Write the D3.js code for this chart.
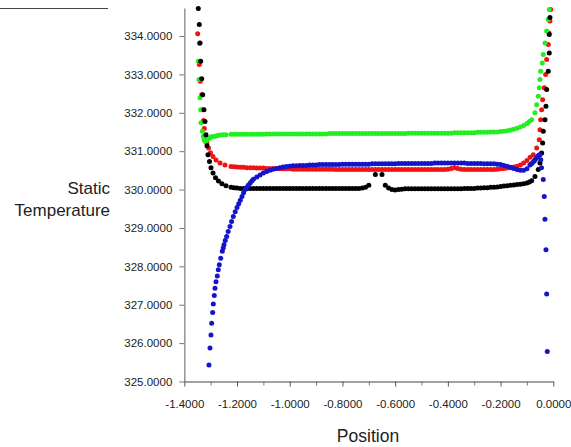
<!DOCTYPE html>
<html>
<head>
<meta charset="utf-8">
<script src="https://cdn.jsdelivr.net/npm/d3@7"></script>
<style>
  html, body { margin: 0; padding: 0; background: #fff; }
  svg { display: block; font-family: "Liberation Sans", Arial, sans-serif; }
</style>
</head>
<body>
<svg id="chart" width="571" height="447"></svg>
<script>
// Probe positions shared by all four profiles in the core region
const gridPos = [
  -1.2, -1.1875, -1.175, -1.1625, -1.15, -1.1375, -1.125, -1.1125,
  -1.1, -1.0875, -1.075, -1.0625, -1.05, -1.0375, -1.025, -1.0125,
  -1.0, -0.9875, -0.975, -0.9625, -0.95, -0.9375, -0.925, -0.9125,
  -0.9, -0.8875, -0.875, -0.8625, -0.85, -0.8375, -0.825, -0.8125,
  -0.8, -0.7875, -0.775, -0.7625, -0.75, -0.7375, -0.725, -0.7125,
  -0.7, -0.6875, -0.675, -0.6625, -0.65, -0.6375, -0.625, -0.6125,
  -0.6, -0.5875, -0.575, -0.5625, -0.55, -0.5375, -0.525, -0.5125,
  -0.5, -0.4875, -0.475, -0.4625, -0.45, -0.4375, -0.425, -0.4125,
  -0.4, -0.3875, -0.375, -0.3625, -0.35, -0.3375, -0.325, -0.3125,
  -0.3, -0.2875, -0.275, -0.2625, -0.25, -0.2375, -0.225, -0.2125,
  -0.2, -0.1875, -0.175, -0.1625, -0.15, -0.1375, -0.125, -0.1125,
  -0.1
];

// Static temperature at the shared positions (null = no sample)
const blackCore = [
  330.04, 330.03, 330.03, 330.03, 330.03, 330.03, 330.03, 330.03,
  330.03, 330.03, 330.03, 330.03, 330.03, 330.03, 330.03, 330.03,
  330.03, 330.03, 330.03, 330.03, 330.03, 330.03, 330.03, 330.03,
  330.03, 330.03, 330.03, 330.03, 330.03, 330.03, 330.03, 330.03,
  330.03, 330.03, 330.03, 330.03, 330.03, 330.03, 330.04, 330.06,
  330.11, null, 330.39, null, 330.39, 330.11, 330.04, 330.00,
  329.99, 330.00, 330.01, 330.02, 330.02, 330.02, 330.02, 330.02,
  330.02, 330.02, 330.02, 330.02, 330.02, 330.02, 330.02, 330.02,
  330.02, 330.02, 330.02, 330.02, 330.02, 330.03, 330.03, 330.03,
  330.03, 330.04, 330.04, 330.05, 330.05, 330.06, 330.06, 330.07,
  330.08, 330.09, 330.10, 330.11, 330.12, 330.13, 330.14, 330.15,
  330.17
];
const redCore = [
  330.59, 330.58, 330.58, 330.57, 330.57, 330.57, 330.56, 330.56,
  330.56, 330.55, 330.55, 330.55, 330.55, 330.54, 330.54, 330.54,
  330.54, 330.53, 330.53, 330.53, 330.53, 330.53, 330.53, 330.53,
  330.53, 330.53, 330.53, 330.53, 330.53, 330.53, 330.52, 330.52,
  330.52, 330.52, 330.52, 330.52, 330.52, 330.52, 330.52, 330.52,
  330.52, 330.52, 330.52, 330.52, 330.52, 330.52, 330.52, 330.52,
  330.52, 330.52, 330.52, 330.52, 330.52, 330.52, 330.52, 330.52,
  330.52, 330.52, 330.52, 330.52, 330.52, 330.52, 330.52, 330.52,
  330.53, 330.55, 330.57, 330.55, 330.53, 330.52, 330.52, 330.52,
  330.52, 330.52, 330.52, 330.52, 330.52, 330.52, 330.52, 330.53,
  330.54, 330.55, 330.56, 330.57, 330.59, 330.61, 330.64, 330.69,
  330.76
];
const greenCore = [
  331.44, 331.44, 331.44, 331.44, 331.44, 331.44, 331.44, 331.44,
  331.44, 331.45, 331.45, 331.45, 331.45, 331.45, 331.45, 331.45,
  331.45, 331.45, 331.45, 331.45, 331.45, 331.45, 331.45, 331.45,
  331.45, 331.45, 331.45, 331.45, 331.46, 331.46, 331.46, 331.46,
  331.46, 331.46, 331.46, 331.46, 331.46, 331.46, 331.46, 331.46,
  331.46, 331.46, 331.46, 331.46, 331.46, 331.46, 331.46, 331.46,
  331.46, 331.46, 331.46, 331.46, 331.47, 331.47, 331.47, 331.47,
  331.47, 331.47, 331.47, 331.47, 331.47, 331.47, 331.47, 331.47,
  331.47, 331.47, 331.48, 331.48, 331.48, 331.48, 331.48, 331.48,
  331.48, 331.49, 331.49, 331.49, 331.49, 331.50, 331.50, 331.50,
  331.51, 331.52, 331.53, 331.55, 331.57, 331.60, 331.63, 331.67,
  331.72
];
const blueCore = [
  329.53, 329.72, 329.92, 330.06, 330.17, 330.27, 330.33, 330.38,
  330.43, 330.47, 330.50, 330.53, 330.55, 330.57, 330.59, 330.60,
  330.61, 330.62, 330.62, 330.63, 330.63, 330.63, 330.64, 330.64,
  330.64, 330.65, 330.65, 330.65, 330.65, 330.65, 330.65, 330.65,
  330.66, 330.66, 330.66, 330.66, 330.66, 330.66, 330.66, 330.66,
  330.66, 330.67, 330.67, 330.67, 330.67, 330.67, 330.67, 330.67,
  330.67, 330.68, 330.68, 330.68, 330.68, 330.68, 330.68, 330.68,
  330.68, 330.68, 330.68, 330.68, 330.69, 330.69, 330.69, 330.69,
  330.69, 330.69, 330.69, 330.69, 330.69, 330.69, 330.68, 330.68,
  330.68, 330.68, 330.68, 330.67, 330.67, 330.67, 330.67, 330.66,
  330.65, 330.63, 330.61, 330.58, 330.55, 330.52, 330.50, 330.50,
  330.54
];

// Near-wall samples [position, temperature] (refined mesh at both ends)
const blackWall = [
  [-1.3469, 334.72], [-1.3431, 334.30], [-1.3404, 333.82], [-1.3378, 333.34],
  [-1.3340, 332.89], [-1.3302, 332.47], [-1.3253, 332.08], [-1.3215, 331.77],
  [-1.3177, 331.43], [-1.3139, 331.14], [-1.3101, 330.91], [-1.3044, 330.73],
  [-1.2987, 330.57], [-1.2911, 330.43], [-1.2816, 330.31], [-1.2703, 330.22],
  [-1.2570, 330.15], [-1.2418, 330.10], [-1.2228, 330.06], [-1.2114, 330.045],
  [-0.0906, 330.20], [-0.0821, 330.23], [-0.0696, 330.34], [-0.0571, 330.52],
  [-0.0506, 330.69], [-0.0442, 330.95], [-0.0404, 331.21], [-0.0381, 331.52],
  [-0.0316, 331.82], [-0.0278, 332.17], [-0.0252, 332.61], [-0.0191, 333.08],
  [-0.0153, 333.56], [-0.0153, 334.04], [-0.0127, 334.48]
];
const redWall = [
  [-1.3492, 334.06], [-1.3416, 333.81], [-1.3431, 333.26], [-1.3393, 332.82],
  [-1.3340, 332.47], [-1.3302, 332.08], [-1.3272, 331.80], [-1.3241, 331.59],
  [-1.3196, 331.39], [-1.3146, 331.22], [-1.3082, 331.08], [-1.3006, 330.96],
  [-1.2911, 330.86], [-1.2797, 330.77], [-1.2646, 330.69], [-1.2456, 330.64],
  [-1.2228, 330.60], [-1.2114, 330.595],
  [-0.0880, 330.84], [-0.0760, 330.91], [-0.0631, 331.08], [-0.0533, 331.30],
  [-0.0506, 331.56], [-0.0480, 331.82], [-0.0442, 332.08], [-0.0404, 332.34],
  [-0.0343, 332.65], [-0.0290, 333.00], [-0.0252, 333.39], [-0.0191, 333.78],
  [-0.0165, 334.08], [-0.0127, 334.39], [-0.0100, 334.69]
];
const greenWall = [
  [-1.3469, 333.34], [-1.3442, 332.87], [-1.3404, 332.39], [-1.3378, 332.08],
  [-1.3366, 331.74], [-1.3317, 331.52], [-1.3280, 331.38], [-1.3250, 331.30],
  [-1.3215, 331.26], [-1.3160, 331.28], [-1.3101, 331.31], [-1.3050, 331.34],
  [-1.2987, 331.37], [-1.2920, 331.38], [-1.2835, 331.39], [-1.2740, 331.41],
  [-1.2646, 331.42], [-1.2530, 331.425], [-1.2418, 331.43], [-1.2228, 331.44],
  [-1.2114, 331.44],
  [-0.0910, 331.77], [-0.0821, 331.82], [-0.0696, 332.00], [-0.0631, 332.21],
  [-0.0571, 332.43], [-0.0533, 332.65], [-0.0506, 332.87], [-0.0480, 333.08],
  [-0.0419, 333.30], [-0.0381, 333.52], [-0.0316, 333.82], [-0.0252, 334.13],
  [-0.0191, 334.43], [-0.0153, 334.69]
];
const blueWall = [
  [-1.3063, 325.43], [-1.3025, 325.87], [-1.2987, 326.21], [-1.2961, 326.52],
  [-1.2923, 326.80], [-1.2900, 327.02], [-1.2862, 327.24], [-1.2835, 327.43],
  [-1.2797, 327.60], [-1.2748, 327.75], [-1.2710, 327.91], [-1.2672, 328.04],
  [-1.2619, 328.21], [-1.2558, 328.39], [-1.2524, 328.48], [-1.2494, 328.56],
  [-1.2448, 328.67], [-1.2392, 328.78], [-1.2335, 328.91], [-1.2266, 329.04],
  [-1.2206, 329.17], [-1.2141, 329.30], [-1.2069, 329.42],
  [-1.1936, 329.63], [-1.1811, 329.82], [-1.1690, 330.00], [-1.1564, 330.12],
  [-1.1439, 330.22],
  [-0.0888, 330.64], [-0.0830, 330.67], [-0.0771, 330.71], [-0.0720, 330.75],
  [-0.0677, 330.79], [-0.0620, 330.84], [-0.0571, 330.88], [-0.0540, 330.90],
  [-0.0506, 330.91], [-0.0475, 330.78], [-0.0449, 330.57], [-0.0381, 330.26],
  [-0.0343, 329.82], [-0.0316, 329.23], [-0.0278, 328.43], [-0.0252, 327.28],
  [-0.0229, 325.78]
];

const xTicks = [-1.4, -1.2, -1.0, -0.8, -0.6, -0.4, -0.2, 0];
const xMinorTicks = [-1.3, -1.1, -0.9, -0.7, -0.5, -0.3, -0.1];
const yTicks = [325, 326, 327, 328, 329, 330, 331, 332, 333, 334];

// Draw order: later series sit on top
const series = [
  { color: "#ee1414", wall: redWall,   core: redCore },
  { color: "#22ee22", wall: greenWall, core: greenCore },
  { color: "#000000", wall: blackWall, core: blackCore },
  { color: "#1414cc", wall: blueWall,  core: blueCore }
];

const svg = d3.select("#chart");

const x = d3.scaleLinear().domain([-1.4, 0]).range([184.3, 553.3]);
const y = d3.scaleLinear().domain([325, 334.73]).range([381.5, 8]);

// Short rule at top left
svg.append("line")
  .attr("x1", 0).attr("x2", 108).attr("y1", 8.5).attr("y2", 8.5)
  .attr("stroke", "#444").attr("stroke-width", 1);

// Y axis
const gy = svg.append("g")
  .attr("transform", `translate(${x.range()[0]},0)`)
  .call(d3.axisLeft(y).tickValues(yTicks).tickFormat(d => d.toFixed(4))
    .tickSize(5).tickSizeOuter(0).tickPadding(7));
gy.select(".domain").attr("stroke", "#9a9a9a").attr("stroke-width", 1.6);
gy.selectAll(".tick line").attr("stroke", "#777");
gy.selectAll(".tick text").attr("fill", "#222").style("font-size", "11.5px");

// X axis with minor ticks
const gx = svg.append("g")
  .attr("transform", `translate(0,${y.range()[0]})`)
  .call(d3.axisBottom(x).tickValues(xTicks).tickFormat(d => d.toFixed(4))
    .tickSize(5).tickSizeOuter(0).tickPadding(13));
gx.select(".domain").attr("stroke", "#444").attr("stroke-width", 1);
gx.selectAll(".tick line").attr("stroke", "#555");
gx.selectAll(".tick text").attr("fill", "#222").style("font-size", "11.5px");

const gxm = svg.append("g")
  .attr("transform", `translate(0,${y.range()[0]})`)
  .call(d3.axisBottom(x).tickValues(xMinorTicks).tickFormat("").tickSize(4).tickSizeOuter(0));
gxm.select(".domain").remove();
gxm.selectAll(".tick line").attr("stroke", "#777");

// Profiles drawn as sample dots
series.forEach(s => {
  const pts = s.wall.map(([p, t]) => ({ p, t }))
    .concat(gridPos.map((p, i) => ({ p, t: s.core[i] })))
    .filter(d => d.t !== null);
  svg.append("g")
    .selectAll("circle")
    .data(pts)
    .join("circle")
    .attr("cx", d => x(d.p))
    .attr("cy", d => y(d.t))
    .attr("r", 2.5)
    .attr("fill", s.color);
});

// Axis titles
svg.append("text")
  .attr("x", 368).attr("y", 442)
  .attr("text-anchor", "middle")
  .attr("fill", "#222")
  .style("font-size", "17.5px")
  .text("Position");

const yt = svg.append("text")
  .attr("text-anchor", "end")
  .attr("fill", "#222")
  .style("font-size", "17px");
yt.append("tspan").attr("x", 110).attr("y", 194).text("Static");
yt.append("tspan").attr("x", 110).attr("y", 216).text("Temperature");
</script>
</body>
</html>
